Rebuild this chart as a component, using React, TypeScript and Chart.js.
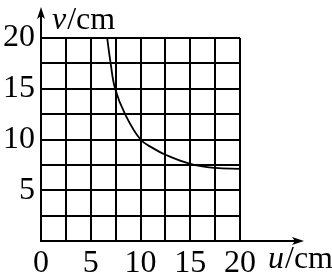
import React, { useEffect, useRef } from "react";
import { Chart, registerables } from "chart.js";

Chart.register(...registerables);

const uValues = [6.65, 7.0, 7.45, 8.45, 10.0, 11.25, 12.5, 15.0, 17.5, 20.0];
const vValues = [20, 17.5, 15, 12.5, 10.0, 9.15, 8.5, 7.6, 7.2, 7.1];
const xLabelValues = [0, 5, 10, 15, 20];
const yLabelValues = [5, 10, 15, 20];
const xTitleItalic = "u";
const yTitleItalic = "v";
const unitText = "/cm";

const FONT = "'Liberation Serif', 'Times New Roman', serif";

const arrowPlugin = {
  id: "arrows",
  afterDraw(chart: any) {
    const ctx = chart.ctx;
    const a = chart.chartArea;
    ctx.save();
    ctx.strokeStyle = "#000";
    ctx.fillStyle = "#000";
    ctx.lineWidth = 2;
    // y axis extension
    ctx.beginPath();
    ctx.moveTo(a.left, a.top);
    ctx.lineTo(a.left, 14);
    ctx.stroke();
    ctx.beginPath();
    ctx.moveTo(a.left, 7);
    ctx.lineTo(a.left + 4, 19);
    ctx.lineTo(a.left, 16);
    ctx.lineTo(a.left - 4, 19);
    ctx.closePath();
    ctx.fill();
    // x axis extension
    ctx.beginPath();
    ctx.moveTo(a.right, a.bottom);
    ctx.lineTo(297, a.bottom);
    ctx.stroke();
    ctx.beginPath();
    ctx.moveTo(304, a.bottom);
    ctx.lineTo(292, a.bottom - 4);
    ctx.lineTo(295, a.bottom);
    ctx.lineTo(292, a.bottom + 4);
    ctx.closePath();
    ctx.fill();
    // titles
    ctx.textBaseline = "alphabetic";
    ctx.textAlign = "left";
    ctx.font = `italic 32px ${FONT}`;
    let w = ctx.measureText(yTitleItalic).width;
    ctx.fillText(yTitleItalic, 52, 29);
    ctx.font = `32px ${FONT}`;
    ctx.fillText(unitText, 52 + w + 1, 29);
    ctx.font = `italic 32px ${FONT}`;
    w = ctx.measureText(xTitleItalic).width;
    ctx.fillText(xTitleItalic, 268, 268);
    ctx.font = `32px ${FONT}`;
    ctx.fillText(unitText, 268 + w + 1, 268);
    ctx.restore();
  },
};

export default function App() {
  const ref = useRef<HTMLCanvasElement>(null);
  useEffect(() => {
    if (!ref.current) return;
    Chart.defaults.color = "#000";
    const chart = new Chart(ref.current, {
      type: "scatter",
      data: {
        datasets: [
          {
            data: uValues.map((u, i) => ({ x: u, y: vValues[i] })),
            showLine: true,
            borderColor: "#000",
            borderWidth: 1.8,
            pointRadius: 0,
            tension: 0.4,
            fill: false,
          } as any,
        ],
      },
      options: {
        animation: false,
        responsive: false,
        events: [],
        layout: { padding: { left: 0, top: 38, right: 92, bottom: 0 } },
        plugins: { legend: { display: false }, tooltip: { enabled: false } },
        scales: {
          x: {
            type: "linear",
            min: 0,
            max: 20,
            afterFit: (s: any) => {
              s.height = 34;
            },
            grid: { color: "#000", lineWidth: 2, drawTicks: false },
            border: { display: true, color: "#000", width: 2 },
            ticks: {
              stepSize: 2.5,
              autoSkip: false,
              maxRotation: 0,
              padding: 3,
              font: { family: FONT, size: 32 },
              color: "#000",
              callback: (v: any) => (xLabelValues.includes(Number(v)) ? String(v) : ""),
            },
          },
          y: {
            type: "linear",
            min: 0,
            max: 20,
            afterFit: (s: any) => {
              s.width = 41;
            },
            grid: { color: "#000", lineWidth: 2, drawTicks: false },
            border: { display: true, color: "#000", width: 2 },
            ticks: {
              stepSize: 2.5,
              autoSkip: false,
              padding: 6,
              font: { family: FONT, size: 32 },
              color: "#000",
              callback: (v: any) => (yLabelValues.includes(Number(v)) ? String(v) : ""),
            },
          },
        },
      },
      plugins: [arrowPlugin],
    });
    return () => chart.destroy();
  }, []);
  return (
    <canvas
      ref={ref}
      width={332}
      height={275}
      style={{ position: "absolute", left: 0, top: 0, width: 332, height: 275, background: "#fff" }}
    />
  );
}
